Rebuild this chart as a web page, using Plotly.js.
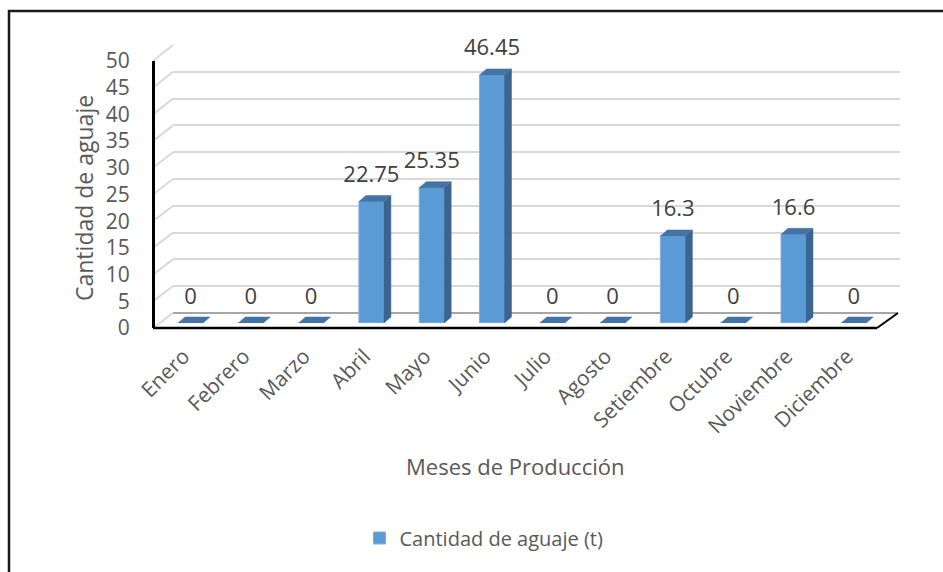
<!DOCTYPE html>
<html>
<head>
<meta charset="utf-8">
<script src="https://cdn.plot.ly/plotly-3.0.1.min.js"></script>
<style>html,body{margin:0;padding:0;background:#fff;}#chart{width:943px;height:572px;}</style>
</head>
<body>
<div id="chart"></div>
<script>
// ---- data ----
const months = ['Enero','Febrero','Marzo','Abril','Mayo','Junio','Julio','Agosto','Setiembre','Octubre','Noviembre','Diciembre'];
const values = [0, 0, 0, 22.75, 25.35, 46.45, 0, 0, 16.3, 0, 16.6, 0];
const yTickVals = [0, 5, 10, 15, 20, 25, 30, 35, 40, 45, 50];
const seriesName = 'Cantidad de aguaje (t)';
const xTitle = 'Meses de Producción';
const yTitle = 'Cantidad de aguaje';

// ---- geometry (pixels) ----
const W = 943, H = 572;
const M = {l: 150, r: 30, t: 30, b: 232};
const PW = W - M.l - M.r, PH = H - M.t - M.b;
const fx = px => (px - M.l) / PW;
const fy = py => (M.t + PH - py) / PH;

const step = 60.3;            // px per category (bar plane)
const barC0 = 190.5;          // px center of first bar front
const barBase = 323, ppu = 5.34; // bar plane: baseline px and px per unit
const frontBase = 328, frontTop = 61; // front axis px (0 and 50)
const backBase = 313, backTop = 45;   // back wall px
const frontX = 153, backX = 173, backRight = 898, frontRight = 877;
const labelShift = -7;        // tick labels sit slightly left of bar fronts

const idx = months.map((m, i) => i);
const barW = 25 / step;       // front face width in category units
const dX = 7 / step;          // depth in category units
const dY = 6 / ppu;           // depth in value units

// side faces and top faces built from the data
const sideX = [], sideY = [], topX = [], topY = [];
values.forEach((v, i) => {
  const r = i + barW / 2, l = i - barW / 2;
  if (v > 0) {
    sideX.push(r, r + dX, r + dX, r, r, null);
    sideY.push(0, dY, v + dY, v, 0, null);
  }
  topX.push(l, r, r + dX, l + dX, l, null);
  topY.push(v, v, v + dY, v + dY, v, null);
});

const front = t => frontBase - (frontBase - frontTop) * t / 50;
const back = t => backBase - (backBase - backTop) * t / 50;

const shapes = [];
// frame
shapes.push({type: 'rect', xref: 'paper', yref: 'paper', x0: fx(9), x1: fx(960), y0: fy(11), y1: fy(600),
  line: {color: '#1a1a1a', width: 2.5}, fillcolor: 'rgba(0,0,0,0)', layer: 'below'});
// left diagonals connecting front axis to back gridlines
yTickVals.forEach(t => {
  shapes.push({type: 'line', xref: 'paper', yref: 'paper', x0: fx(frontX), y0: fy(front(t)), x1: fx(backX), y1: fy(back(t)),
    line: {color: '#d9d9d9', width: 2}, layer: 'below'});
});
// floor back edge
shapes.push({type: 'line', xref: 'paper', yref: 'paper', x0: fx(backX), y0: fy(backBase), x1: fx(backRight), y1: fy(backBase),
  line: {color: '#a6a6a6', width: 2}, layer: 'below'});
// floor front edge and right diagonal
shapes.push({type: 'line', xref: 'paper', yref: 'paper', x0: fx(frontX), y0: fy(frontBase), x1: fx(frontRight), y1: fy(frontBase),
  line: {color: '#000000', width: 2.5}});
shapes.push({type: 'line', xref: 'paper', yref: 'paper', x0: fx(frontRight), y0: fy(frontBase), x1: fx(backRight), y1: fy(backBase),
  line: {color: '#000000', width: 2}});

const traces = [
  // back wall gridlines carrier
  {type: 'scatter', x: [0.5], y: [0], xaxis: 'x', yaxis: 'y', mode: 'markers', marker: {opacity: 0}, showlegend: false, hoverinfo: 'skip'},
  // bar front faces
  {type: 'bar', x: idx, y: values, width: barW, xaxis: 'x2', yaxis: 'y2', name: seriesName,
   marker: {color: '#5b9bd5', line: {color: '#7fb0de', width: 1}}, hoverinfo: 'skip'},
  // side faces
  {type: 'scatter', x: sideX, y: sideY, xaxis: 'x2', yaxis: 'y2', mode: 'lines', fill: 'toself',
   fillcolor: '#3b6590', line: {width: 0.5, color: '#3b6590'}, showlegend: false, hoverinfo: 'skip'},
  // top faces
  {type: 'scatter', x: topX, y: topY, xaxis: 'x2', yaxis: 'y2', mode: 'lines', fill: 'toself',
   fillcolor: '#4473a6', line: {width: 0.5, color: '#4473a6'}, showlegend: false, hoverinfo: 'skip'},
  // front axis / category label carrier
  {type: 'scatter', x: [0], y: [0], xaxis: 'x3', yaxis: 'y3', mode: 'markers', marker: {opacity: 0}, showlegend: false, hoverinfo: 'skip'},
  // data labels
  {type: 'scatter', x: idx, y: values, xaxis: 'x2', yaxis: 'y4', mode: 'text', text: values.map(v => String(v)),
   textposition: 'middle center', textfont: {family: 'Open Sans', size: 22, color: '#404040'}, cliponaxis: false,
   showlegend: false, hoverinfo: 'skip'}
];

const layout = {
  width: W, height: H,
  margin: M,
  paper_bgcolor: '#ffffff', plot_bgcolor: 'rgba(0,0,0,0)',
  font: {family: 'Open Sans', color: '#595959'},
  showlegend: true,
  barmode: 'overlay',
  xaxis: {domain: [fx(backX), fx(900)], range: [0, 1], showgrid: false, zeroline: false, showline: false,
          showticklabels: false, ticks: '', fixedrange: true},
  yaxis: {domain: [fy(backBase), fy(backTop)], range: [0, 50], tickvals: yTickVals, showgrid: true,
          gridcolor: '#d9d9d9', gridwidth: 2, zeroline: false, showline: false, showticklabels: false, ticks: '', anchor: 'x'},
  xaxis2: {domain: [fx(barC0 - step / 2), fx(barC0 + step * 11.5)], range: [-0.5, 11.5],
           anchor: 'y2', showgrid: false, zeroline: false, showline: false, ticks: '', showticklabels: false},
  xaxis3: {domain: [fx(barC0 - step / 2 + labelShift), fx(barC0 + step * 11.5 + labelShift)], range: [-0.5, 11.5],
           tickvals: idx, ticktext: months, tickangle: -45, anchor: 'free', position: fy(frontBase),
           showgrid: false, zeroline: false, showline: false, ticks: '', ticklabelstandoff: 11,
           tickfont: {family: 'Open Sans', size: 21, color: '#595959'}},
  yaxis2: {domain: [fy(barBase), fy(barBase - 50 * ppu)], range: [0, 50], visible: false, anchor: 'x2'},
  yaxis3: {domain: [fy(frontBase), fy(frontTop)], range: [0, 50], tickvals: yTickVals, anchor: 'free', position: fx(frontX),
           showline: true, linecolor: '#000000', linewidth: 2.5, showgrid: false, zeroline: false, ticks: '',
           ticklabelstandoff: 18, tickfont: {family: 'Open Sans', size: 21, color: '#595959'}},
  yaxis4: {domain: [fy(barBase - 25), fy(barBase - 25 - 50 * ppu)], range: [0, 50], visible: false, anchor: 'x2'},
  legend: {orientation: 'h', x: fx(484), xanchor: 'center', y: fy(538), yanchor: 'middle', itemwidth: 30,
           font: {family: 'Open Sans', size: 20, color: '#595959'}, bgcolor: 'rgba(0,0,0,0)'},
  annotations: [
    {text: yTitle, xref: 'paper', yref: 'paper', x: fx(84), y: fy(198), showarrow: false, textangle: -90,
     xanchor: 'center', yanchor: 'middle', font: {family: 'Open Sans', size: 23, color: '#595959'}},
    {text: xTitle, xref: 'paper', yref: 'paper', x: fx(515), y: fy(466), showarrow: false,
     xanchor: 'center', yanchor: 'middle', font: {family: 'Open Sans', size: 22, color: '#595959'}}
  ],
  shapes: shapes
};

Plotly.newPlot('chart', traces, layout, {displayModeBar: false, staticPlot: true});
</script>
</body>
</html>
